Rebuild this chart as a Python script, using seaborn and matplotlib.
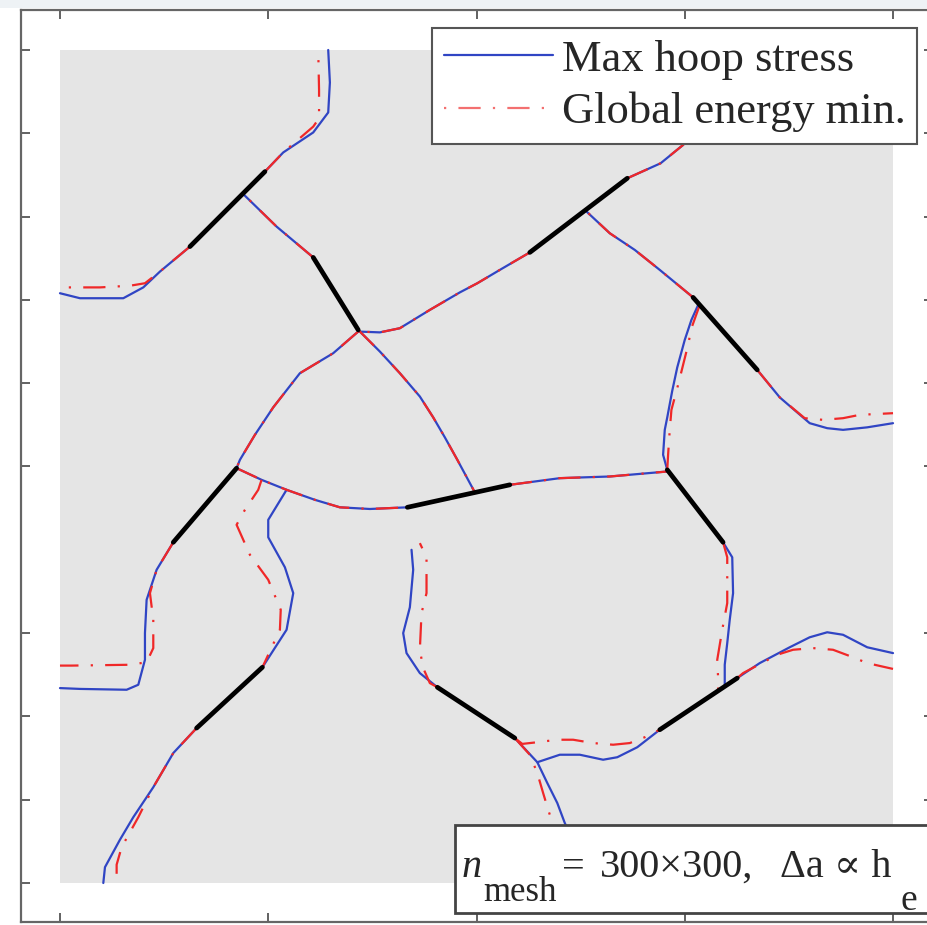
import numpy as np
import pandas as pd
import seaborn as sns
import matplotlib.pyplot as plt
from matplotlib.lines import Line2D
from matplotlib.patches import Rectangle

# initial cracks (black segments), start / end points
crack_x0 = [0.156, 0.304, 0.564, 0.760, 0.136, 0.164, 0.417, 0.729, 0.453, 0.720]
crack_y0 = [0.764, 0.751, 0.757, 0.703, 0.409, 0.186, 0.451, 0.496, 0.235, 0.184]
crack_x1 = [0.246, 0.358, 0.681, 0.837, 0.212, 0.243, 0.540, 0.796, 0.546, 0.813]
crack_y1 = [0.854, 0.664, 0.846, 0.616, 0.498, 0.259, 0.478, 0.409, 0.174, 0.246]

# crack growth paths, max hoop stress criterion
hoop_a = [(0.246, 0.854), (0.268, 0.877), (0.304, 0.901), (0.322, 0.925), (0.324, 0.961), (0.322, 1.0)]
hoop_b = [(0.156, 0.764), (0.120, 0.734), (0.100, 0.715), (0.076, 0.702), (0.024, 0.702), (0.0, 0.708)]
hoop_c = [(0.304, 0.751), (0.260, 0.788), (0.220, 0.827)]
hoop_d = [(0.358, 0.664), (0.384, 0.638), (0.408, 0.612), (0.432, 0.584), (0.448, 0.559),
          (0.462, 0.535), (0.477, 0.508), (0.498, 0.469)]
hoop_e = [(0.564, 0.757), (0.528, 0.736), (0.501, 0.720), (0.480, 0.709), (0.444, 0.688),
          (0.408, 0.666), (0.384, 0.661), (0.358, 0.662)]
hoop_f = [(0.358, 0.662), (0.328, 0.636), (0.288, 0.612), (0.256, 0.571), (0.234, 0.538),
          (0.216, 0.508), (0.212, 0.498)]
hoop_g = [(0.212, 0.498), (0.242, 0.484), (0.272, 0.472), (0.306, 0.460), (0.336, 0.451),
          (0.372, 0.449), (0.417, 0.451)]
hoop_h = [(0.136, 0.409), (0.116, 0.376), (0.104, 0.340), (0.102, 0.300), (0.102, 0.268),
          (0.094, 0.238), (0.080, 0.232), (0.024, 0.233), (0.0, 0.234)]
hoop_i = [(0.272, 0.472), (0.250, 0.436), (0.250, 0.415), (0.270, 0.379), (0.280, 0.348),
          (0.272, 0.304), (0.243, 0.259)]
hoop_j = [(0.164, 0.186), (0.136, 0.156), (0.112, 0.115), (0.088, 0.079), (0.072, 0.052),
          (0.054, 0.019), (0.052, 0.0)]
hoop_k = [(0.540, 0.478), (0.600, 0.486), (0.660, 0.488), (0.729, 0.494)]
hoop_l = [(0.729, 0.496), (0.724, 0.514), (0.726, 0.544), (0.729, 0.559), (0.735, 0.591),
          (0.741, 0.619), (0.750, 0.652), (0.758, 0.676), (0.767, 0.696)]
hoop_m = [(0.796, 0.409), (0.807, 0.391), (0.808, 0.348), (0.804, 0.316), (0.801, 0.288),
          (0.798, 0.262), (0.798, 0.236)]
hoop_n = [(0.760, 0.703), (0.720, 0.736), (0.690, 0.760), (0.660, 0.780), (0.630, 0.808)]
hoop_o = [(0.837, 0.616), (0.864, 0.583), (0.900, 0.552), (0.921, 0.546), (0.940, 0.544),
          (0.969, 0.547), (1.0, 0.552)]
hoop_p = [(0.681, 0.846), (0.721, 0.864), (0.748, 0.886), (0.792, 0.940), (0.840, 1.0)]
hoop_q = [(0.453, 0.235), (0.432, 0.252), (0.416, 0.276), (0.412, 0.300), (0.420, 0.331),
          (0.424, 0.376), (0.422, 0.400)]
hoop_r = [(0.546, 0.174), (0.573, 0.145), (0.585, 0.120), (0.597, 0.096), (0.606, 0.072),
          (0.618, 0.046), (0.630, 0.020)]
hoop_s = [(0.573, 0.145), (0.600, 0.154), (0.624, 0.154), (0.652, 0.148), (0.669, 0.151),
          (0.693, 0.163), (0.720, 0.184)]
hoop_t = [(0.813, 0.246), (0.840, 0.264), (0.876, 0.283), (0.900, 0.295), (0.921, 0.301),
          (0.940, 0.298), (0.969, 0.283), (1.0, 0.276)]

# crack growth paths, global energy minimisation (where they differ)
energy_a = [(0.246, 0.854), (0.268, 0.877), (0.304, 0.908), (0.311, 0.918), (0.311, 0.952), (0.310, 1.0)]
energy_b = [(0.156, 0.764), (0.120, 0.734), (0.102, 0.720), (0.084, 0.717), (0.048, 0.715), (0.0, 0.715)]
energy_h = [(0.136, 0.409), (0.116, 0.376), (0.108, 0.348), (0.112, 0.316), (0.112, 0.282),
            (0.104, 0.265), (0.084, 0.262), (0.014, 0.261), (0.0, 0.261)]
energy_i = [(0.242, 0.484), (0.238, 0.472), (0.222, 0.448), (0.212, 0.430), (0.228, 0.394),
            (0.250, 0.364), (0.265, 0.328), (0.264, 0.304), (0.243, 0.259)]
energy_j = [(0.164, 0.186), (0.136, 0.156), (0.112, 0.115), (0.094, 0.079), (0.074, 0.043),
            (0.068, 0.022), (0.068, 0.0)]
energy_l = [(0.729, 0.496), (0.730, 0.514), (0.732, 0.544), (0.734, 0.568), (0.742, 0.598),
            (0.748, 0.622), (0.754, 0.646), (0.758, 0.666), (0.768, 0.694)]
energy_m = [(0.796, 0.409), (0.801, 0.391), (0.801, 0.336), (0.795, 0.304), (0.789, 0.268),
            (0.790, 0.247), (0.790, 0.232)]
energy_o = [(0.837, 0.616), (0.864, 0.583), (0.894, 0.558), (0.916, 0.556), (0.940, 0.558),
            (0.960, 0.562), (1.0, 0.564)]
energy_q = [(0.453, 0.235), (0.444, 0.240), (0.436, 0.258), (0.432, 0.280), (0.434, 0.324),
            (0.440, 0.348), (0.440, 0.391), (0.432, 0.408)]
energy_r = [(0.546, 0.174), (0.564, 0.154), (0.573, 0.132), (0.580, 0.108), (0.586, 0.088), (0.594, 0.064)]
energy_s = [(0.546, 0.174), (0.555, 0.167), (0.573, 0.169), (0.597, 0.172), (0.616, 0.172),
            (0.640, 0.168), (0.664, 0.166), (0.684, 0.168), (0.702, 0.175), (0.720, 0.184)]
energy_t = [(0.813, 0.246), (0.820, 0.252), (0.861, 0.274), (0.880, 0.280), (0.904, 0.282),
            (0.928, 0.280), (0.952, 0.271), (0.969, 0.264), (1.0, 0.257)]

hoop_paths = [hoop_a, hoop_b, hoop_c, hoop_d, hoop_e, hoop_f, hoop_g, hoop_h, hoop_i, hoop_j,
              hoop_k, hoop_l, hoop_m, hoop_n, hoop_o, hoop_p, hoop_q, hoop_r, hoop_s, hoop_t]
energy_paths = [energy_a, energy_b, hoop_c, hoop_d, hoop_e, hoop_f, hoop_g, energy_h, energy_i, energy_j,
                hoop_k, energy_l, energy_m, hoop_n, energy_o, hoop_p, energy_q, energy_r, energy_s, energy_t]

x_ticks = [0, 0.25, 0.5, 0.75, 1.0]
y_ticks = [0, 0.1, 0.2, 0.3, 0.5, 0.6, 0.7, 0.8, 0.9, 1.0]

labels = ['Max hoop stress', 'Global energy min.']
hoop_color = '#3045c4'
energy_color = '#f02828'
dash_dot = (10, 5.5, 1, 5.5)


def to_frame(paths, method):
    rows = []
    for i, path in enumerate(paths):
        for x, y in path:
            rows.append((method, method + str(i), x, y))
    return pd.DataFrame(rows, columns=['method', 'path', 'x', 'y'])


df = pd.concat([to_frame(hoop_paths, labels[0]), to_frame(energy_paths, labels[1])], ignore_index=True)

df_cracks = pd.DataFrame({
    'crack': list(range(len(crack_x0))) * 2,
    'x': crack_x0 + crack_x1,
    'y': crack_y0 + crack_y1,
})

sns.set_style('ticks')
plt.rcParams['font.family'] = ['Liberation Serif', 'DejaVu Serif']

W, H = 927, 925
fig = plt.figure(figsize=(W / 100, H / 100), dpi=100)
fig.add_artist(Rectangle((0, 1 - 8 / H), 1, 8 / H, transform=fig.transFigure,
                         facecolor='#eef2f5', edgecolor='none', zorder=-5))
ax = fig.add_axes([21 / W, 3 / H, 912 / W, 912 / H])
ax.set_facecolor('white')

ax.add_patch(Rectangle((0, 0), 1, 1, facecolor='#e5e5e5', edgecolor='none', zorder=0))

sns.lineplot(data=df, x='x', y='y', hue='method', style='method', units='path',
             estimator=None, sort=False, palette={labels[0]: hoop_color, labels[1]: energy_color},
             dashes={labels[0]: '', labels[1]: dash_dot}, linewidth=1.6, legend=False, ax=ax, zorder=2)

sns.lineplot(data=df_cracks, x='x', y='y', units='crack', estimator=None, sort=False,
             color='black', linewidth=3.4, legend=False, ax=ax, zorder=3)

ax.set_xlim(-0.0468, 1.048)
ax.set_ylim(-0.0468, 1.048)
ax.set_xticks(x_ticks)
ax.set_yticks(y_ticks)
ax.set_xlabel('')
ax.set_ylabel('')
ax.tick_params(direction='in', length=6.5, width=1.3, color='#555555',
               top=True, right=True, labelbottom=False, labelleft=False)
for sp in ax.spines.values():
    sp.set_color('#666666')
    sp.set_linewidth(1.6)

handles = [Line2D([], [], color=hoop_color, lw=1.6),
           Line2D([], [], color='#f37070', lw=1.6, linestyle=(15.5, dash_dot))]
leg = ax.legend(handles, labels, loc='upper right', bbox_to_anchor=(917 / W, 1 - 28 / H),
                bbox_transform=fig.transFigure, borderaxespad=0, fontsize=32, frameon=True,
                fancybox=False, framealpha=1, edgecolor='#555555', handlelength=2.45,
                handletextpad=0.2, labelspacing=0.27, borderpad=0.26)
leg.get_frame().set_linewidth(1.5)
leg.set_zorder(10)

# mesh annotation box, bottom right
fig.add_artist(Rectangle((455 / W, 1 - 913 / H), (945 - 455) / W, (913 - 825) / H,
                         transform=fig.transFigure, facecolor='white', edgecolor='#444444',
                         linewidth=2, zorder=5))
pieces = [('n', 462, 877, 'italic', 29), ('mesh', 483, 901, 'normal', 25),
          ('=', 562, 877, 'normal', 29), ('300×300,', 600, 877, 'normal', 29),
          ('Δa ∝ h', 780, 877, 'normal', 29), ('e', 900, 910, 'normal', 27)]
for s, px, py, st, fs in pieces:
    fig.text(px / W, 1 - py / H, s, fontsize=fs, style=st, va='baseline', ha='left', zorder=6)

plt.savefig('out.png', dpi=100)
